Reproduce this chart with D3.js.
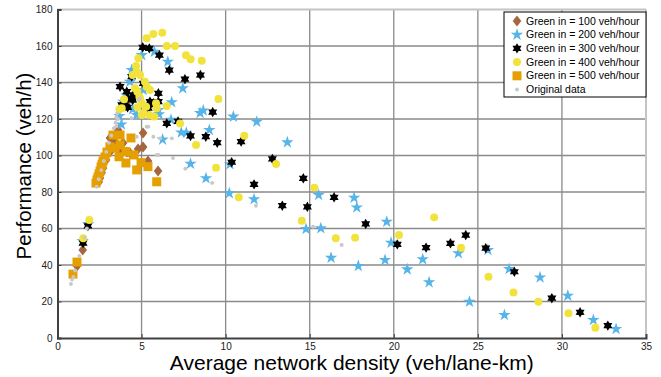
<!DOCTYPE html>
<html><head><meta charset="utf-8">
<script src="https://cdn.jsdelivr.net/npm/d3@7"></script>
<style>html,body{margin:0;padding:0;background:#fff;}svg{display:block;font-family:Arial,"Liberation Sans",sans-serif;}</style>
</head><body>
<svg id="c" width="661" height="377"></svg>
<script>
const xTicks = [0,5,10,15,20,25,30,35];
const yTicks = [0,20,40,60,80,100,120,140,160,180];
const seriesNames = ["Green in = 100 veh/hour","Green in = 200 veh/hour","Green in = 300 veh/hour","Green in = 400 veh/hour","Green in = 500 veh/hour","Original data"];

const g100 = [[1.16,39.5],[1.5,48.2],[2.45,85.5],[2.53,87.7],[2.62,90.5],[2.71,93.2],[2.89,97.5],[3.12,101.9],[3.12,109.6],[3.42,107.4],[3.6,114],[3.72,101.9],[3.9,106.8],[4.13,101.9],[4.31,101.4],[4.79,103.6],[5.09,104.7],[5.09,112.3],[5.38,97],[5.98,91.5]];

const g200 = [[1.5,53.2],[1.83,62.5],[5.01,155],[5.76,156.9],[6.56,151.4],[7.45,136.8],[4.41,146.8],[4.31,140.4],[5.1,135.9],[3.91,129.5],[4.47,125.3],[5.34,125.9],[6.04,122.6],[6.79,129.2],[3.68,121.6],[8.48,123.3],[8.67,124.7],[6.75,119.6],[7.36,112.6],[7.66,112.4],[6.25,108.7],[9.03,114],[7.91,95.5],[8.83,87.5],[4.71,122.2],[6.0,124.9],[4.1,133],[3.8,117],[10.46,121.3],[11.85,118.5],[13.67,107.2],[10.26,95.2],[10.22,79.3],[11.69,76],[15.53,78.4],[17.64,76.9],[17.8,71.5],[14.78,59.7],[15.66,60.1],[19.58,63.7],[19.84,52.2],[16.27,44],[17.89,39.5],[19.48,42.7],[20.8,37.6],[21.72,43.1],[22.1,30.5],[23.84,46.4],[24.5,19.9],[25.6,48.2],[26.86,37.8],[28.7,33.2],[26.58,12.6],[30.35,23.2],[31.87,9.9],[33.22,4.9]];

const g300 = [[1.52,52],[1.81,61.4],[5.07,159.3],[5.46,158.7],[6.06,155],[6.65,146.8],[7.58,141.8],[8.5,144.1],[4.41,143.2],[5.1,139.5],[4.12,135],[4.5,133.2],[5.5,129.5],[4.47,130.4],[4.07,127.1],[6.5,117.6],[7.17,118.7],[7.91,110.7],[8.82,110.3],[9.23,123.8],[9.5,107],[6.0,134.1],[3.72,137.7],[4.17,126.4],[3.82,127.7],[5.4,125.9],[5.7,128.6],[4.6,132.2],[6.0,129.5],[4.2,131.3],[10.92,107.6],[10.36,96.3],[12.78,98.1],[11.69,84.2],[14.62,87.5],[13.37,72.5],[14.86,71.9],[16.45,77.1],[18.33,62.5],[20.21,51.3],[21.92,49.5],[23.37,51.9],[24.28,56.4],[25.47,49.2],[27.17,36.3],[29.4,21.8],[31.08,14.1],[32.73,6.8]];

const g400 = [[1.53,54.6],[1.89,64.7],[5.3,164.2],[5.7,166.6],[6.23,167.3],[6.5,160],[6.99,160],[7.64,155],[7.92,152.7],[4.81,153.3],[4.67,149],[4.71,145.9],[4.91,144.1],[8.58,151.9],[9.57,131],[4.47,144.1],[4.61,136.8],[5.2,140.4],[5.3,137.7],[5.5,135.9],[4.87,132.2],[5.01,128.6],[5.27,126.7],[4.75,126.4],[5.01,122.2],[5.46,122.2],[5.76,121.3],[5.86,128.6],[6.5,127.1],[3.82,125.9],[3.96,130.8],[3.68,125.3],[8.24,105.8],[9.43,93.3],[4.75,135],[4.91,131.3],[5.1,123.1],[5.9,125.9],[7.29,117.6],[11.11,110.8],[13.0,95.3],[10.78,77.1],[15.28,82.4],[14.53,64.3],[16.55,54.6],[17.7,55],[20.31,56.4],[22.4,66.1],[24.0,49.5],[25.63,33.6],[27.12,25],[28.6,19.9],[30.39,13.5],[31.99,5.6]];

const g500 = [[0.92,35],[1.16,41.6],[2.29,84.9],[2.35,86.6],[2.41,88.2],[2.47,89.9],[2.53,91.5],[2.59,93.7],[2.65,95.3],[2.71,97],[2.83,99.2],[2.94,101.9],[3.12,104.8],[3.3,111.2],[3.42,104.1],[3.72,111.2],[3.66,99.3],[3.72,105.8],[4.07,102.1],[4.07,95.9],[4.37,109.6],[4.55,100.3],[4.71,92.1],[4.97,96.1],[5.38,93.9],[5.9,85.6]];

const orig = [[0.8,29.6],[0.86,32],[0.95,33.5],[1.05,37],[1.3,45],[1.6,55],[1.75,60],[2.33,82.9],[2.45,87],[2.6,92],[2.75,97],[2.9,102],[3.05,107],[3.2,111],[3.35,115],[3.45,118],[3.5,121],[3.55,123],[3.6,120],[3.5,116],[4.41,120.4],[4.81,130.4],[4.9,131.3],[4.71,110.3],[5.3,115.8],[5.4,115.8],[5.7,110.3],[6.1,109.4],[6.8,109.4],[5.9,100.3],[6.0,100.3],[6.87,98.6],[7.6,92.8],[9.2,85],[11.8,72.5],[15.2,61],[16.9,51]];

const svg = d3.select("#c");
const L = 57.5, R = 646, T = 9.5, B = 338;
const x = d3.scaleLinear().domain([0,35]).range([L,R]);
const y = d3.scaleLinear().domain([0,180]).range([B,T]);

// grid
const grid = svg.append("g");
grid.selectAll("line.gx").data(xTicks.filter(d=>d>0&&d<35)).enter().append("line")
  .attr("x1",d=>x(d)).attr("x2",d=>x(d)).attr("y1",T).attr("y2",B)
  .attr("stroke","#8a8a8a").attr("stroke-width",1.3);
grid.selectAll("line.gy").data(yTicks.filter(d=>d>0&&d<180)).enter().append("line")
  .attr("x1",L).attr("x2",R).attr("y1",d=>y(d)).attr("y2",d=>y(d))
  .attr("stroke","#8a8a8a").attr("stroke-width",1.3);
// top/right border
svg.append("line").attr("x1",L).attr("x2",R).attr("y1",T).attr("y2",T).attr("stroke","#c4c4c4").attr("stroke-width",2);
svg.append("line").attr("x1",R).attr("x2",R).attr("y1",T).attr("y2",B).attr("stroke","#c4c4c4").attr("stroke-width",2);

// axes
const xa = svg.append("g").attr("transform",`translate(0,${B})`)
  .call(d3.axisBottom(x).tickValues(xTicks).tickSize(-4).tickPadding(6).tickFormat(d3.format("d")));
const ya = svg.append("g").attr("transform",`translate(${L},0)`)
  .call(d3.axisLeft(y).tickValues(yTicks).tickSize(-4).tickPadding(5).tickFormat(d3.format("d")));
[xa,ya].forEach(a=>{
  a.select(".domain").attr("stroke","#404040").attr("stroke-width",2);
  a.selectAll(".tick line").attr("stroke","#404040");
  a.selectAll(".tick text").attr("fill","#222").attr("font-size","10px").attr("font-family","Arial, 'Liberation Sans', sans-serif");
});
xa.selectAll(".tick text").attr("dy","0.55em");

// symbol generators
function hexagram(Rr){
  const pts=[]; for(let i=0;i<12;i++){const a=-Math.PI/2+i*Math.PI/6; const r=i%2===0?Rr:Rr*0.58; pts.push([r*Math.cos(a),r*Math.sin(a)]);}
  return "M"+pts.map(p=>p[0].toFixed(2)+","+p[1].toFixed(2)).join("L")+"Z";
}
const diamondPath = "M0,-5.5L4.3,0L0,5.5L-4.3,0Z";
const squarePath = "M-4.5,-4.5H4.5V4.5H-4.5Z";
const starPath = d3.symbol().type(d3.symbolStar).size(48)();
const hexPath = hexagram(5.2);
const circlePath = d3.symbol().type(d3.symbolCircle).size(50)();
const dotPath = d3.symbol().type(d3.symbolCircle).size(12)();

const series = [
  {data:g100, path:diamondPath, color:"#A4653F"},
  {data:g200, path:starPath, color:"#56B4E9"},
  {data:g300, path:hexPath, color:"#000000"},
  {data:g400, path:circlePath, color:"#F2E33C"},
  {data:g500, path:squarePath, color:"#E69F00"},
  {data:orig, path:dotPath, color:"#C8C8C8"}
];
const plot = svg.append("g");
series.forEach(s=>{
  plot.append("g").selectAll("path").data(s.data).enter().append("path")
    .attr("d",s.path).attr("fill",s.color)
    .attr("transform",d=>`translate(${x(d[0])},${y(d[1])})`);
});

// legend
const lg = svg.append("g");
lg.append("rect").attr("x",504).attr("y",12).attr("width",142).attr("height",85).attr("fill","#fff").attr("stroke","#000").attr("stroke-width",1);
series.forEach((s,i)=>{
  const yy = 21 + i*13.7;
  lg.append("path").attr("d",s.path).attr("fill",s.color).attr("transform",`translate(517,${yy})`);
  lg.append("text").attr("x",526).attr("y",yy).attr("dy","0.35em").attr("font-size","10.5px").attr("fill","#000").text(seriesNames[i]);
});

// titles
svg.append("text").attr("x",(L+R)/2).attr("y",370).attr("text-anchor","middle").attr("font-size","21px").attr("fill","#000").text("Average network density (veh/lane-km)");
svg.append("text").attr("transform","translate(31,166) rotate(-90)").attr("text-anchor","middle").attr("font-size","20.5px").attr("fill","#000").text("Performance (veh/h)");
</script>
</body></html>
